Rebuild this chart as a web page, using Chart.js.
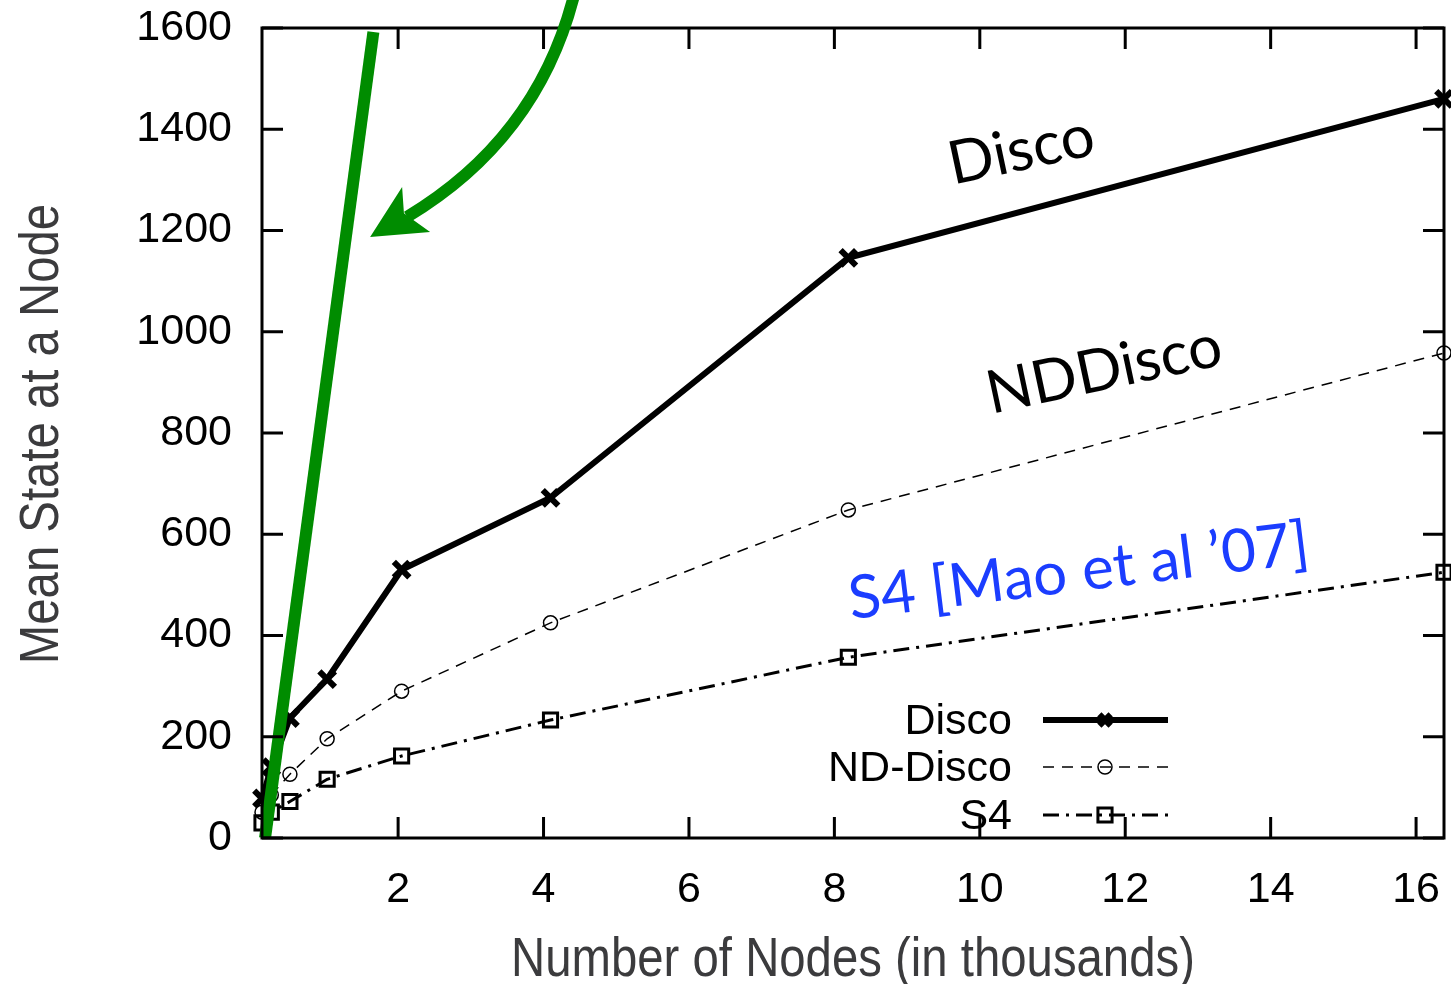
<!DOCTYPE html>
<html>
<head>
<meta charset="utf-8">
<script src="https://cdn.jsdelivr.net/npm/chart.js@4/dist/chart.umd.min.js"></script>
<style>
  html, body { margin: 0; padding: 0; background: #ffffff; overflow: hidden; }
  #wrap { width: 1451px; height: 984px; }
  canvas { display: block; }
</style>
</head>
<body>
<div id="wrap"><canvas id="c" width="1451" height="984"></canvas></div>
<script>
// ---- data (x in thousands of nodes) ----
const xNodes  = [0.128, 0.256, 0.512, 1.024, 2.048, 4.096, 8.192, 16.384];
const disco   = [78, 140, 237, 314, 530, 672, 1146, 1460];
const ndDisco = [51, 85, 126, 196, 290, 425, 648, 958];
const s4      = [30, 51, 72, 116, 162, 233, 357, 525];
const xTickValues = [2, 4, 6, 8, 10, 12, 14, 16];
const yTickValues = [0, 200, 400, 600, 800, 1000, 1200, 1400, 1600];
const seriesNames = ['Disco', 'ND-Disco', 'S4'];
const xTitle = 'Number of Nodes (in thousands)';
const yTitle = 'Mean State at a Node';
// green annotation line (data coords)
const greenLineX = [0.17, 1.66];
const greenLineY = [0, 1592];
// green curved arrow (data coords): start, ctrl1, ctrl2, end; head: tip, corner1, notch, corner2
const arrowCurveX = [4.42, 4.158, 3.54, 2.124];
const arrowCurveY = [1665, 1517, 1349, 1227];
const arrowHeadX  = [1.615, 2.055, 2.08, 2.44];
const arrowHeadY  = [1187, 1286, 1234, 1197];
// annotation labels
const noteTexts = ['Disco', 'NDDisco', 'S4 [Mao et al \u201907]'];
const noteX = [10.57, 11.71, 11.36];
const noteY = [1358, 924, 526];

const toXY = (xs, ys) => xs.map((x, i) => ({ x: x, y: ys[i] }));

const GREEN = '#008c00';
const BLUE = '#1b3dff';
const tickFont = { family: 'Liberation Sans, Arial, sans-serif', size: 43 };

const seriesStyles = [
  { borderWidth: 6, borderDash: [], pointStyle: 'crossRot', pointRadius: 11, pointBorderWidth: 6 },
  { borderWidth: 1.5, borderDash: [11, 8], pointStyle: 'circle', pointRadius: 7, pointBorderWidth: 1.5 },
  { borderWidth: 3, borderDash: [16, 7, 3, 7], pointStyle: 'rect', pointRadius: 10, pointBorderWidth: 3 }
];

const framePlugin = {
  id: 'frame',
  afterDatasetsDraw(chart) {
    const ctx = chart.ctx, a = chart.chartArea;
    const xs = chart.scales.x, ys = chart.scales.y;
    ctx.save();
    ctx.strokeStyle = '#000';
    ctx.lineWidth = 3;
    ctx.strokeRect(a.left, a.top, a.right - a.left, a.bottom - a.top);
    const L = 21;
    ctx.beginPath();
    xTickValues.forEach(v => {
      const px = xs.getPixelForValue(v);
      ctx.moveTo(px, a.bottom); ctx.lineTo(px, a.bottom - L);
      ctx.moveTo(px, a.top); ctx.lineTo(px, a.top + L);
    });
    yTickValues.forEach(v => {
      const py = ys.getPixelForValue(v);
      ctx.moveTo(a.left, py); ctx.lineTo(a.left + L, py);
      ctx.moveTo(a.right, py); ctx.lineTo(a.right - L, py);
    });
    ctx.stroke();

    // green curved arrow
    const P = arrowCurveX.map((x, i) => [xs.getPixelForValue(x), ys.getPixelForValue(arrowCurveY[i])]);
    ctx.strokeStyle = GREEN;
    ctx.lineWidth = 12;
    ctx.lineCap = 'butt';
    ctx.beginPath();
    ctx.moveTo(P[0][0], P[0][1]);
    ctx.bezierCurveTo(P[1][0], P[1][1], P[2][0], P[2][1], P[3][0], P[3][1]);
    ctx.stroke();
    const H = arrowHeadX.map((x, i) => [xs.getPixelForValue(x), ys.getPixelForValue(arrowHeadY[i])]);
    ctx.fillStyle = GREEN;
    ctx.beginPath();
    ctx.moveTo(H[0][0], H[0][1]);
    ctx.lineTo(H[1][0], H[1][1]);
    ctx.lineTo(H[2][0], H[2][1]);
    ctx.lineTo(H[3][0], H[3][1]);
    ctx.closePath();
    ctx.fill();

    // annotation texts
    const noteFonts = ['60px Lato', '60px Lato', '60px Lato'];
    const noteAngles = [-12, -12, -7];
    const noteColors = ['#000', '#000', BLUE];
    noteTexts.forEach((t, i) => {
      ctx.save();
      ctx.translate(xs.getPixelForValue(noteX[i]), ys.getPixelForValue(noteY[i]));
      ctx.rotate(noteAngles[i] * Math.PI / 180);
      ctx.font = noteFonts[i];
      ctx.fillStyle = noteColors[i];
      ctx.textAlign = 'center';
      ctx.textBaseline = 'middle';
      ctx.fillText(t, 0, 0);
      ctx.restore();
    });

    // legend
    const rows = [a.bottom - 118, a.bottom - 71, a.bottom - 23];
    const textRight = a.right - 432, lx0 = a.right - 401, lx1 = a.right - 276, mx = a.right - 339;
    ctx.font = '43px Liberation Sans, Arial, sans-serif';
    ctx.textAlign = 'right';
    ctx.textBaseline = 'middle';
    seriesNames.forEach((n, i) => {
      const y = rows[i];
      ctx.fillStyle = '#000';
      ctx.fillText(n, textRight, y + 2);
      const st = seriesStyles[i];
      ctx.strokeStyle = '#000';
      ctx.lineWidth = st.borderWidth;
      ctx.setLineDash(st.borderDash);
      ctx.beginPath();
      ctx.moveTo(lx0, y); ctx.lineTo(lx1, y);
      ctx.stroke();
      ctx.setLineDash([]);
      const r = i === 0 ? 8 : (i === 1 ? 7 : 10);
      ctx.fillStyle = 'rgba(0,0,0,0)';
      ctx.lineWidth = st.pointBorderWidth;
      Chart.helpers.drawPoint(ctx, { pointStyle: st.pointStyle, radius: r, borderWidth: st.pointBorderWidth, rotation: 0 }, mx, y);
    });

    // axis titles (condensed look via horizontal scaling)
    ctx.fillStyle = '#3b3b3d';
    ctx.font = '56px Liberation Sans, Arial, sans-serif';
    ctx.textAlign = 'center';
    ctx.textBaseline = 'alphabetic';
    ctx.save();
    ctx.translate((a.left + a.right) / 2, chart.height - 8);
    ctx.scale(0.845, 1);
    ctx.fillText(xTitle, 0, 0);
    ctx.restore();
    ctx.save();
    ctx.translate(58, (a.top + a.bottom) / 2 + 1);
    ctx.rotate(-Math.PI / 2);
    ctx.scale(0.845, 1);
    ctx.fillText(yTitle, 0, 0);
    ctx.restore();
    ctx.restore();
  }
};

const mkSeries = (label, ys, st) => ({
  label: label,
  data: toXY(xNodes, ys),
  borderColor: '#000',
  backgroundColor: 'rgba(0,0,0,0)',
  borderWidth: st.borderWidth,
  borderDash: st.borderDash,
  pointStyle: st.pointStyle,
  pointRadius: st.pointRadius,
  pointBorderWidth: st.pointBorderWidth,
  pointBorderColor: '#000',
  pointBackgroundColor: 'rgba(0,0,0,0)',
  tension: 0,
  clip: false
});

new Chart(document.getElementById('c'), {
  type: 'line',
  data: {
    datasets: [
      {
        label: 'green',
        data: toXY(greenLineX, greenLineY),
        borderColor: GREEN,
        borderWidth: 12,
        borderCapStyle: 'butt',
        pointRadius: 0,
        clip: false
      },
      mkSeries(seriesNames[0], disco, seriesStyles[0]),
      mkSeries(seriesNames[1], ndDisco, seriesStyles[1]),
      mkSeries(seriesNames[2], s4, seriesStyles[2])
    ]
  },
  options: {
    responsive: false,
    animation: false,
    events: [],
    layout: { autoPadding: false, padding: { top: 28, right: 7, left: 0, bottom: 0 } },
    plugins: { legend: { display: false }, tooltip: { enabled: false } },
    scales: {
      x: {
        type: 'linear',
        min: 0.128,
        max: 16.384,
        afterFit(s) { s.height = 146; s.paddingLeft = 0; s.paddingRight = 0; },
        afterBuildTicks(s) { s.ticks = xTickValues.map(v => ({ value: v })); },
        grid: { display: false, drawTicks: false },
        border: { display: false },
        ticks: { font: tickFont, color: '#000', padding: 26, maxRotation: 0, autoSkip: false,
                 callback: v => String(v) },
        title: { display: false }
      },
      y: {
        type: 'linear',
        min: 0,
        max: 1600,
        afterFit(s) { s.width = 262; s.paddingTop = 0; s.paddingBottom = 0; },
        afterBuildTicks(s) { s.ticks = yTickValues.map(v => ({ value: v })); },
        grid: { display: false, drawTicks: false },
        border: { display: false },
        ticks: { font: tickFont, color: '#000', padding: 30, callback: v => String(v) },
        title: { display: false }
      }
    }
  },
  plugins: [framePlugin]
});
</script>
</body>
</html>
